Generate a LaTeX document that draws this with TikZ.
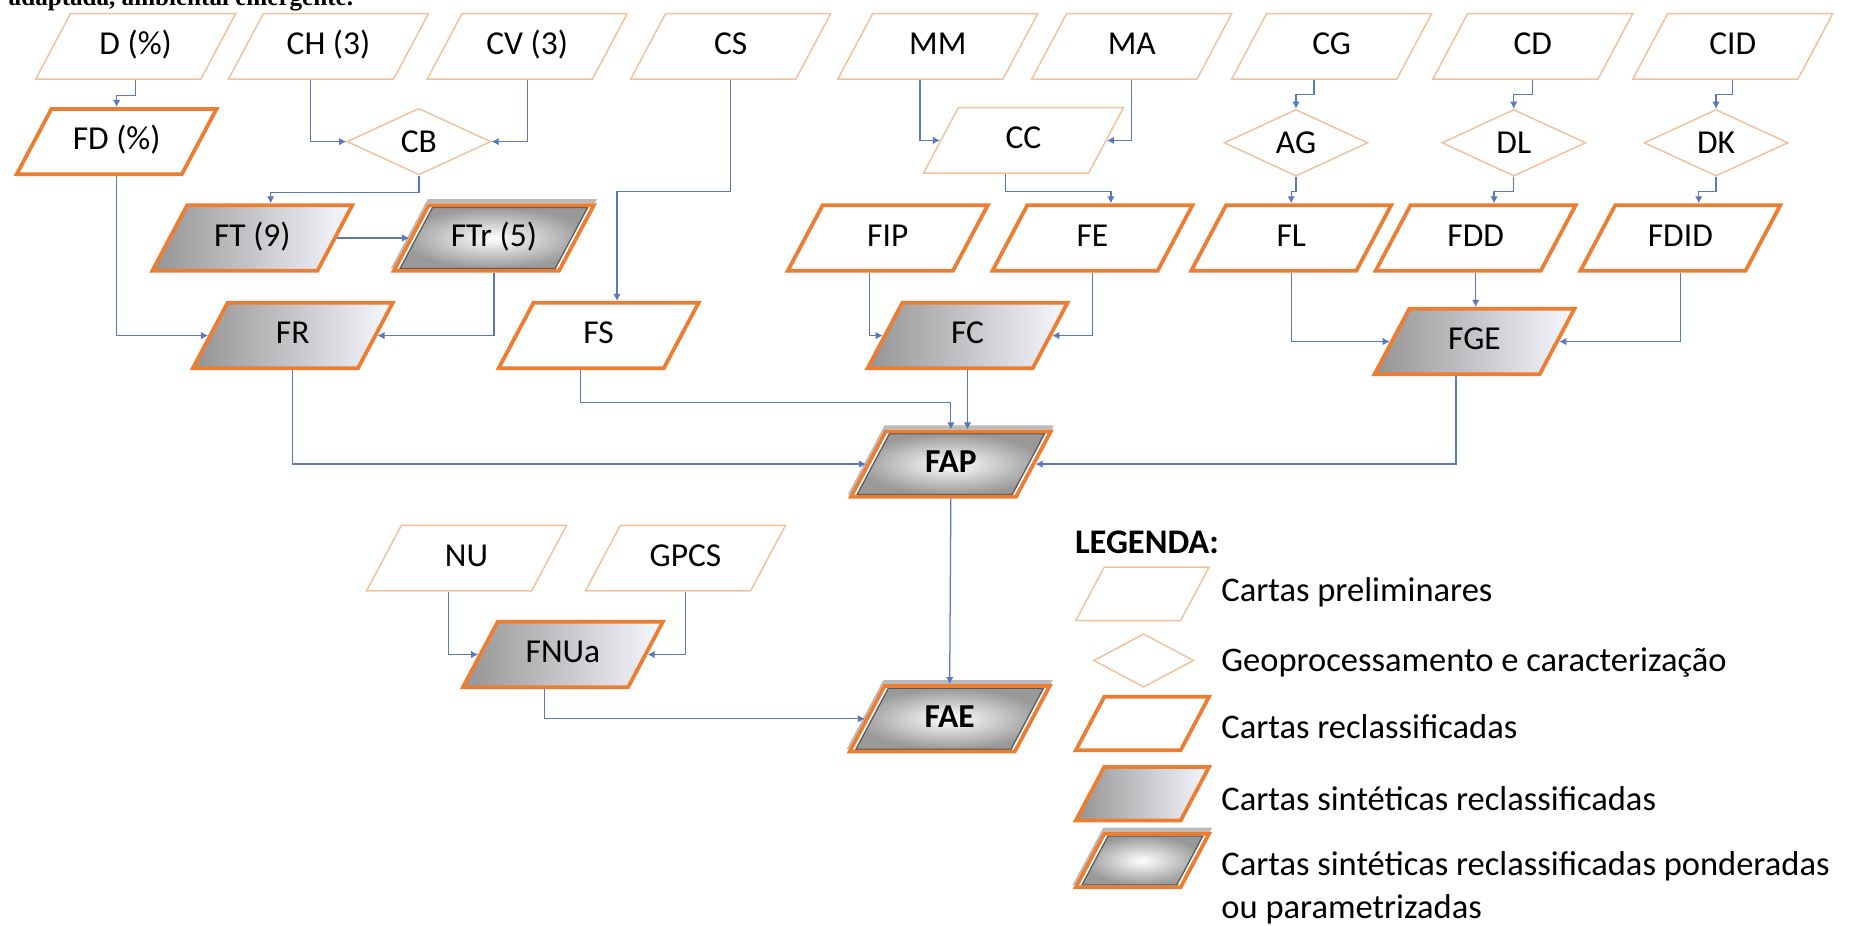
\documentclass[tikz,border=0pt]{standalone}
\usepackage{fontspec}
\setmainfont{Carlito}
\newfontfamily\capfont{Liberation Serif}
\usetikzlibrary{shapes.geometric,arrows.meta,backgrounds}

\definecolor{orangeline}{HTML}{ED7D31}
\definecolor{paleline}{HTML}{F2C19C}
\definecolor{linkblue}{HTML}{5A78BD}

\tikzset{
  carta/.style={trapezium, trapezium left angle=62, trapezium right angle=118,
    trapezium stretches body=true, minimum width=33.6mm,
    text height=4.2mm, text depth=1.4mm, inner ysep=2.7mm, inner xsep=0pt,
    font=\fontsize{16}{19}\selectfont},
  prelim/.style={carta, draw=paleline, line width=.7pt, fill=white},
  reclass/.style={carta, draw=orangeline, line width=1.8pt, fill=white},
  sintese/.style={carta, draw=orangeline, line width=1.8pt,
    left color=black!42, right color=blue!3!white},
  pondera/.style={carta, draw=orangeline, line width=1.8pt},
  geoproc/.style={diamond, draw=paleline, line width=.7pt, fill=white, aspect=2.2,
    minimum width=24.2mm, minimum height=11.2mm, inner sep=0pt,
    font=\fontsize{16}{19}\selectfont},
  legsize/.style={minimum width=22.4mm, inner ysep=1.7mm},
  legtext/.style={anchor=west, align=left, inner sep=0pt, font=\fontsize{16.5}{21}\selectfont},
  link/.style={draw=linkblue, line width=.6pt, -{Latex[length=3.4pt,width=3.6pt]}},
}

\begin{document}
\begin{tikzpicture}[x=0.2mm,y=-0.2mm]
  \useasboundingbox (0,0) rectangle (1568,778);

  % caption line cut by the top of the page
  \node[anchor=base west, inner sep=0pt, font=\capfont\bfseries\fontsize{12}{14}\selectfont] (caption) at (7,5) {adaptada, ambiental emergente.};

  % Preliminary charts along the top
  \foreach \nm/\x/\lab in {D/114/{D (\%)}, CH/276/{CH (3)}, CV/443/{CV (3)}, CS/614/CS,
      MM/788/MM, MA/951/MA, CG/1119/CG, CD/1288/CD, CID/1456/CID} {
    \node[prelim] (\nm) at (\x,39) {\lab};
  }

  % Second row
  \node[reclass] (FD) at (98,119) {FD (\%)};
  \node[geoproc] (CB) at (352,119) {CB};
  \node[prelim] (CC) at (860,118) {CC};
  \foreach \nm/\x in {AG/1089, DL/1272, DK/1442} {
    \node[geoproc] (\nm) at (\x,120) {\nm};
  }

  % Third row
  \node[sintese] (FT) at (212,200) {FT (9)};
  \node[pondera] (FTr) at (415,200) {FTr (5)};
  \foreach \nm/\x in {FIP/746, FE/918, FL/1085, FDD/1240, FDID/1412} {
    \node[reclass] (\nm) at (\x,200) {\nm};
  }

  % Fourth row
  \node[sintese] (FR) at (246,282) {FR};
  \node[reclass] (FS) at (503,282) {FS};
  \node[sintese] (FC) at (813,282) {FC};
  \node[sintese] (FGE) at (1239,287) {FGE};

  % Synthesis and the lower branch
  \node[pondera, font=\bfseries\fontsize{16}{19}\selectfont] (FAP) at (799,390) {FAP};
  \node[prelim] (NU) at (392,469) {NU};
  \node[prelim] (GPCS) at (576,469) {GPCS};
  \node[sintese] (FNUa) at (473,550) {FNUa};
  \node[pondera, font=\bfseries\fontsize{16}{19}\selectfont] (FAE) at (798,604) {FAE};

  % Legend
  \node[anchor=west, inner sep=0pt, font=\bfseries\fontsize{16.5}{20}\selectfont] (legenda) at (903,456) {LEGENDA:};
  \node[prelim, legsize] (legP) at (960,499) {};
  \node[geoproc, minimum width=16.8mm, minimum height=9mm] (legG) at (961,555) {};
  \node[reclass, legsize] (legR) at (960,608) {};
  \node[sintese, legsize] (legS) at (960,667) {};
  \node[pondera, legsize] (legW) at (960,723) {};
  \node[legtext] (txtP) at (1026,498) {Cartas preliminares};
  \node[legtext] (txtG) at (1026,557) {Geoprocessamento e caracterização};
  \node[legtext] (txtR) at (1026,611) {Cartas reclassificadas};
  \node[legtext] (txtS) at (1026,671) {Cartas sintéticas reclassificadas};
  \node[legtext] (txtW) at (1026,746) {Cartas sintéticas reclassificadas ponderadas\\ou parametrizadas};

  % Weighted charts: shadow, white band and shaded inner frame
  \begin{scope}[on background layer]
    \foreach \n in {FTr,FAP,FAE,legW} {
      \fill[black!60, opacity=.45] ([yshift=.7mm]\n.bottom left corner) -- ([yshift=.7mm]\n.bottom right corner)
        -- ([yshift=.7mm]\n.top right corner) -- ([yshift=.7mm]\n.top left corner) -- cycle;
      \fill[white] (\n.bottom left corner) -- (\n.bottom right corner)
        -- (\n.top right corner) -- (\n.top left corner) -- cycle;
      \shade[inner color=white, outer color=black!40, draw=black!65, line width=.6pt]
        ([shift={(1.57mm,.7mm)}]\n.bottom left corner) -- ([shift={(-.83mm,.7mm)}]\n.bottom right corner)
        -- ([shift={(-1.57mm,-.7mm)}]\n.top right corner) -- ([shift={(.83mm,-.7mm)}]\n.top left corner) -- cycle;
    }
  \end{scope}

  % Connectors, top rows
  \draw[link] (D.south) -- ++(0,13) -| (FD.north);
  \draw[link] (CH.bottom side) |- (CB.west);
  \draw[link] (CV.south) |- (CB.east);
  \draw[link] (CB.south) -- ++(0,14) -| (FT.top side);
  \draw[link] (FT.right side) -- (FTr.left side);
  \draw[link] (FD.south) |- (FR.left side);
  \draw[link] (FTr.south) |- (FR.right side);
  \draw[link] (CS.south) -- ++(0,94) -| (FS.top side);
  \draw[link] (MM.bottom side) |- (CC.left side);
  \draw[link] (MA.south) |- (CC.right side);
  \draw[link] (CC.bottom side) -- ++(0,15) -| (FE.top side);
  \draw[link] (CG.bottom side) -- ++(0,12) -| (AG.north);
  \draw[link] (CD.south) -- ++(0,12) -| (DL.north);
  \draw[link] (CID.south) -- ++(0,12) -| (DK.north);
  \draw[link] (AG.south) -- ++(0,12) -| (FL.north);
  \draw[link] (DL.south) -- ++(0,12) -| (FDD.top side);
  \draw[link] (DK.south) -- ++(0,12) -| (FDID.top side);

  % Connectors into the synthetic charts
  \draw[link] (FIP.bottom side) |- (FC.left side);
  \draw[link] (FE.south) |- (FC.right side);
  \draw[link] (FL.south) |- (FGE.left side);
  \draw[link] (FDD.south) -- (FDD.south |- FGE.north);
  \draw[link] (FDID.south) |- (FGE.right side);
  \draw[link] (FR.south) |- (FAP.left side);
  \draw[link] (FS.bottom side) -- ++(0,27) -| (FAP.north);
  \draw[link] (FC.south) -- (FC.south |- FAP.north);
  \draw[link] (FGE.bottom side) |- (FAP.right side);
  \draw[link] (FAP.south) -- (FAE.north);
  \draw[link] (NU.bottom side) |- (FNUa.left side);
  \draw[link] (GPCS.south) |- (FNUa.right side);
  \draw[link] (FNUa.bottom side) |- (FAE.left side);
\end{tikzpicture}
\end{document}
